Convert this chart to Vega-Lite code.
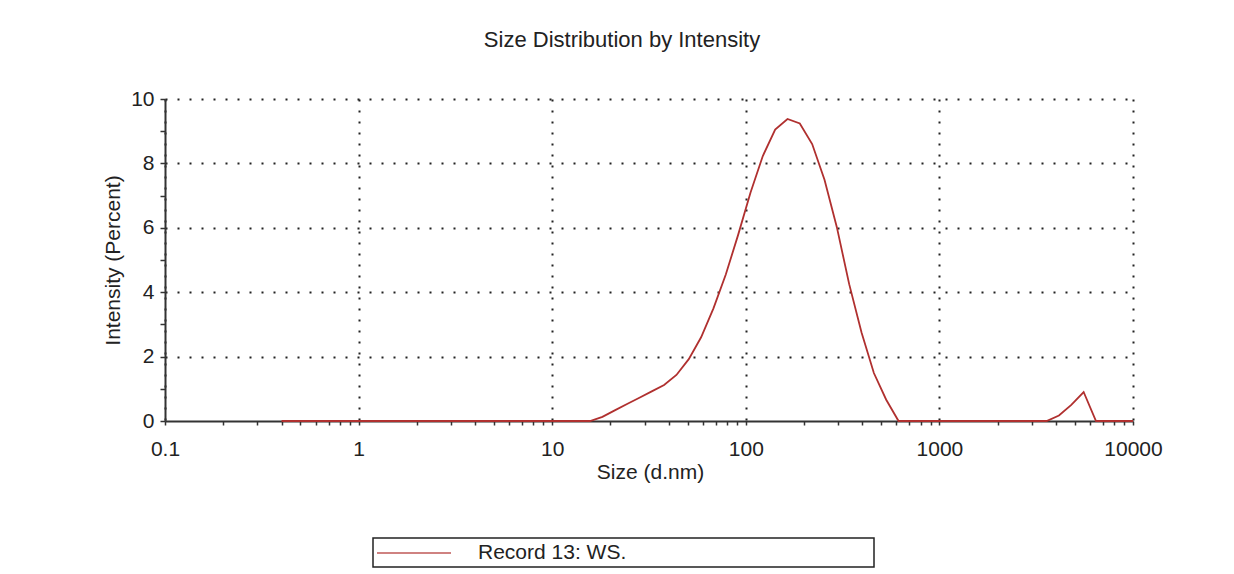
{
  "$schema": "https://vega.github.io/schema/vega-lite/v6.json",
  "width": 968,
  "height": 322,
  "autosize": {"type": "none"},
  "padding": {"left": 165, "top": 99, "right": 101, "bottom": 153},
  "background": "white",
  "title": {
    "text": "Size Distribution by Intensity",
    "font": "Liberation Sans",
    "fontSize": 22,
    "fontWeight": "normal",
    "color": "#222222",
    "anchor": "middle",
    "dx": -27,
    "offset": 36
  },
  "data": {
    "values": [
      {"size": 0.4, "intensity": 0, "record": "Record 13: WS."},
      {"size": 1, "intensity": 0, "record": "Record 13: WS."},
      {"size": 10, "intensity": 0, "record": "Record 13: WS."},
      {"size": 15.69, "intensity": 0, "record": "Record 13: WS."},
      {"size": 18.17, "intensity": 0.13, "record": "Record 13: WS."},
      {"size": 21.04, "intensity": 0.33, "record": "Record 13: WS."},
      {"size": 24.36, "intensity": 0.53, "record": "Record 13: WS."},
      {"size": 28.21, "intensity": 0.72, "record": "Record 13: WS."},
      {"size": 32.67, "intensity": 0.92, "record": "Record 13: WS."},
      {"size": 37.84, "intensity": 1.12, "record": "Record 13: WS."},
      {"size": 43.82, "intensity": 1.43, "record": "Record 13: WS."},
      {"size": 50.75, "intensity": 1.92, "record": "Record 13: WS."},
      {"size": 58.77, "intensity": 2.6, "record": "Record 13: WS."},
      {"size": 68.06, "intensity": 3.5, "record": "Record 13: WS."},
      {"size": 78.82, "intensity": 4.55, "record": "Record 13: WS."},
      {"size": 91.28, "intensity": 5.78, "record": "Record 13: WS."},
      {"size": 105.7, "intensity": 7.09, "record": "Record 13: WS."},
      {"size": 122.4, "intensity": 8.23, "record": "Record 13: WS."},
      {"size": 141.8, "intensity": 9.05, "record": "Record 13: WS."},
      {"size": 164.2, "intensity": 9.38, "record": "Record 13: WS."},
      {"size": 190.1, "intensity": 9.24, "record": "Record 13: WS."},
      {"size": 220.2, "intensity": 8.6, "record": "Record 13: WS."},
      {"size": 255.0, "intensity": 7.49, "record": "Record 13: WS."},
      {"size": 295.3, "intensity": 6.02, "record": "Record 13: WS."},
      {"size": 342.0, "intensity": 4.25, "record": "Record 13: WS."},
      {"size": 396.1, "intensity": 2.75, "record": "Record 13: WS."},
      {"size": 458.7, "intensity": 1.49, "record": "Record 13: WS."},
      {"size": 531.2, "intensity": 0.66, "record": "Record 13: WS."},
      {"size": 615.1, "intensity": 0, "record": "Record 13: WS."},
      {"size": 1000, "intensity": 0, "record": "Record 13: WS."},
      {"size": 3580, "intensity": 0, "record": "Record 13: WS."},
      {"size": 4145, "intensity": 0.17, "record": "Record 13: WS."},
      {"size": 4801, "intensity": 0.5, "record": "Record 13: WS."},
      {"size": 5560, "intensity": 0.9, "record": "Record 13: WS."},
      {"size": 6439, "intensity": 0, "record": "Record 13: WS."},
      {"size": 10000, "intensity": 0, "record": "Record 13: WS."}
    ]
  },
  "mark": {"type": "line", "strokeWidth": 1.8, "interpolate": "linear"},
  "encoding": {
    "x": {
      "field": "size",
      "type": "quantitative",
      "title": "Size (d.nm)",
      "scale": {"type": "log", "domain": [0.1, 10000], "nice": false},
      "axis": {
        "values": [0.1,0.2,0.3,0.4,0.5,0.6,0.7,0.8,0.9,1,2,3,4,5,6,7,8,9,10,20,30,40,50,60,70,80,90,100,200,300,400,500,600,700,800,900,1000,2000,3000,4000,5000,6000,7000,8000,9000,10000],
        "labelExpr": "abs(log(datum.value)/LN10 - round(log(datum.value)/LN10)) < 0.001 ? format(datum.value, '~g') : ''",
        "labelFont": "Liberation Sans",
        "labelFontSize": 21,
        "labelColor": "#222222",
        "labelPadding": 13,
        "labelOverlap": false,
        "labelFlush": false,
        "tickSize": 4,
        "tickColor": "#333333",
        "tickWidth": 1.5,
        "domainColor": "#333333",
        "domainWidth": 2,
        "grid": true,
        "gridColor": "#222222",
        "gridWidth": 2,
        "gridDash": [2, 9],
        "gridOpacity": {"condition": {"test": "abs(log(datum.value)/LN10 - round(log(datum.value)/LN10)) < 0.001", "value": 1}, "value": 0},
        "titleFont": "Liberation Sans",
        "titleFontSize": 21,
        "titleFontWeight": "normal",
        "titleColor": "#222222",
        "titlePadding": 2,
        "titleX": 485
      }
    },
    "y": {
      "field": "intensity",
      "type": "quantitative",
      "title": "Intensity (Percent)",
      "scale": {"domain": [0, 10], "nice": false},
      "axis": {
        "values": [0,1,2,3,4,5,6,7,8,9,10],
        "labelExpr": "datum.value % 2 == 0 ? format(datum.value, 'd') : ''",
        "labelFont": "Liberation Sans",
        "labelFontSize": 21,
        "labelColor": "#222222",
        "labelPadding": 6,
        "labelOverlap": false,
        "labelFlush": false,
        "tickSize": 5,
        "tickColor": "#333333",
        "tickWidth": 1.5,
        "domainColor": "#333333",
        "domainWidth": 2,
        "grid": true,
        "gridColor": "#222222",
        "gridWidth": 2,
        "gridDash": [2, 10],
        "gridOpacity": {"condition": {"test": "datum.value % 2 == 0 && datum.value > 0", "value": 1}, "value": 0},
        "titleFont": "Liberation Sans",
        "titleFontSize": 21,
        "titleFontWeight": "normal",
        "titleColor": "#222222",
        "titlePadding": 7
      }
    },
    "color": {
      "field": "record",
      "type": "nominal",
      "scale": {"range": ["#b0302f"]},
      "legend": {
        "title": null,
        "orient": "none",
        "legendX": 208,
        "legendY": 439,
        "symbolType": "M-3.7,0H3.7M45.2,0Z",
        "symbolSize": 400,
        "symbolOffset": 26,
        "symbolStrokeWidth": 1.8,
        "symbolOpacity": 0.6,
        "labelFont": "Liberation Sans",
        "labelFontSize": 21,
        "labelColor": "#222222",
        "labelOffset": 53,
        "labelLimit": 1000,
        "padding": 4,
        "strokeColor": "#222222",
        "fillColor": "white"
      }
    }
  },
  "config": {
    "view": {"stroke": null},
    "font": "Liberation Sans",
    "legend": {"strokeWidth": 1.5}
  }
}
